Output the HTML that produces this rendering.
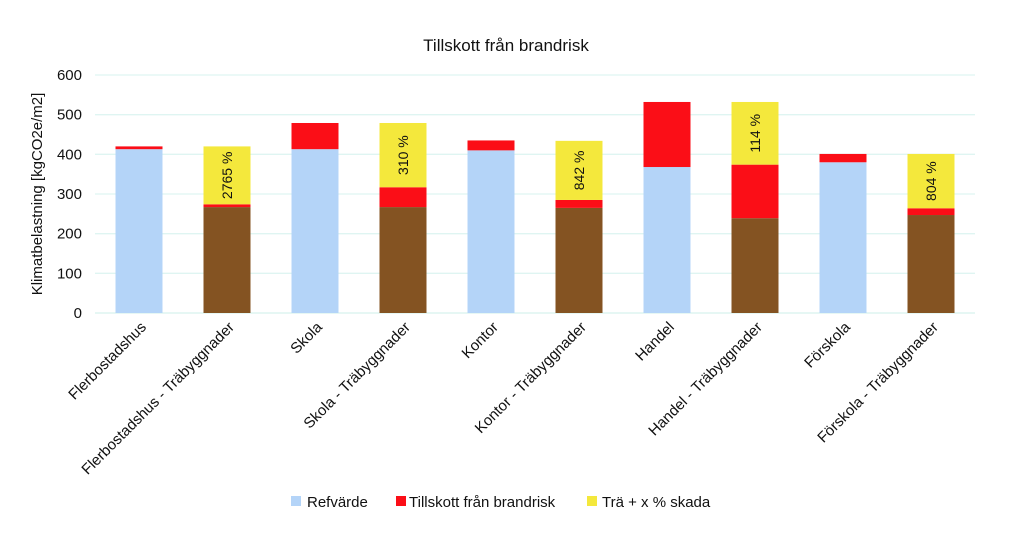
<!DOCTYPE html>
<html><head><meta charset="utf-8"><style>
body{margin:0;background:#fff;}
svg{display:block;font-family:"Liberation Sans",sans-serif;}
</style></head><body>
<svg id="chart" width="1024" height="533" viewBox="0 0 1024 533">
<text x="506" y="51" font-size="17" text-anchor="middle" fill="#111">Tillskott från brandrisk</text>
<text transform="translate(42,194) rotate(-90)" font-size="15" text-anchor="middle" fill="#111">Klimatbelastning [kgCO2e/m2]</text>
<g id="grid"></g><g id="bars"></g><g id="xlabels"></g>
<g>
<rect x="291" y="496" width="10" height="10" fill="#b4d4f8"/>
<text x="307" y="507" font-size="15" fill="#111">Refvärde</text>
<rect x="396" y="496" width="10" height="10" fill="#fb0e17"/>
<text x="409" y="507" font-size="15" fill="#111">Tillskott från brandrisk</text>
<rect x="587" y="496" width="10" height="10" fill="#f4e83c"/>
<text x="602" y="507" font-size="15" fill="#111">Trä + x % skada</text>
</g>
</svg>
<script>
const categories = ["Flerbostadshus","Flerbostadshus - Träbyggnader","Skola","Skola - Träbyggnader","Kontor","Kontor - Träbyggnader","Handel","Handel - Träbyggnader","Förskola","Förskola - Träbyggnader"];
const baseValues = [413,267,413,267,410,265,368,239,380,247];
const isWood = [false,true,false,true,false,true,false,true,false,true];
const fireValues = [7,7,66,50,25,20,164,135,21,17];
const woodValues = [0,146,0,162,0,149,0,158,0,137];
const pctLabels = ["","2765 %","","310 %","","842 %","","114 %","","804 %"];
const yTicks = [0,100,200,300,400,500,600];

const NS="http://www.w3.org/2000/svg";
const plotL=95, plotR=975, y0=313, y600=75;
const y=v=>y0-(v/600)*(y0-y600);
const band=(plotR-plotL)/categories.length;
const bw=47;
const xc=i=>plotL+band*(i+0.5);
function mk(tag,attrs,parent){const e=document.createElementNS(NS,tag);for(const k in attrs)e.setAttribute(k,attrs[k]);parent.appendChild(e);return e;}
const grid=document.getElementById('grid'), bars=document.getElementById('bars'), xl=document.getElementById('xlabels');
yTicks.forEach(t=>{
  const l=mk('line',{x1:plotL,x2:plotR,y1:y(t),y2:y(t),stroke:t===0?'#d6f2ee':'#dff5f2','stroke-width':1.3},grid);
  
  
  const tx=mk('text',{x:82,y:y(t)+5,'font-size':15,'text-anchor':'end',fill:'#111'},grid);
  tx.textContent=t;
  
  
});
categories.forEach((c,i)=>{
  const x=xc(i)-bw/2;
  const b=baseValues[i], f=fireValues[i], w=woodValues[i];
  const r1=mk('rect',{x:x,y:y(b),width:bw,height:y(0)-y(b),fill:isWood[i]?'#845322':'#b4d4f8'},bars);
  
  
  const r2=mk('rect',{x:x,y:y(b+f),width:bw,height:y(b)-y(b+f),fill:'#fb0e17'},bars);
  
  
  if(w>0){
    const r3=mk('rect',{x:x,y:y(b+f+w),width:bw,height:y(b+f)-y(b+f+w),fill:'#f4e83c'},bars);
    
    
    const my=(y(b+f)+y(b+f+w))/2;
    const t=mk('text',{transform:`translate(${xc(i)+5},${my}) rotate(-90)`,'font-size':14,'text-anchor':'middle',fill:'#111'},bars);
    t.textContent=pctLabels[i];
    
    
  }
  const lt=mk('text',{transform:`translate(${xc(i)+8},${328}) rotate(-45)`,'font-size':15,'text-anchor':'end',fill:'#111'},xl);
  lt.textContent=c;
  
  
});
</script>
</body></html>
